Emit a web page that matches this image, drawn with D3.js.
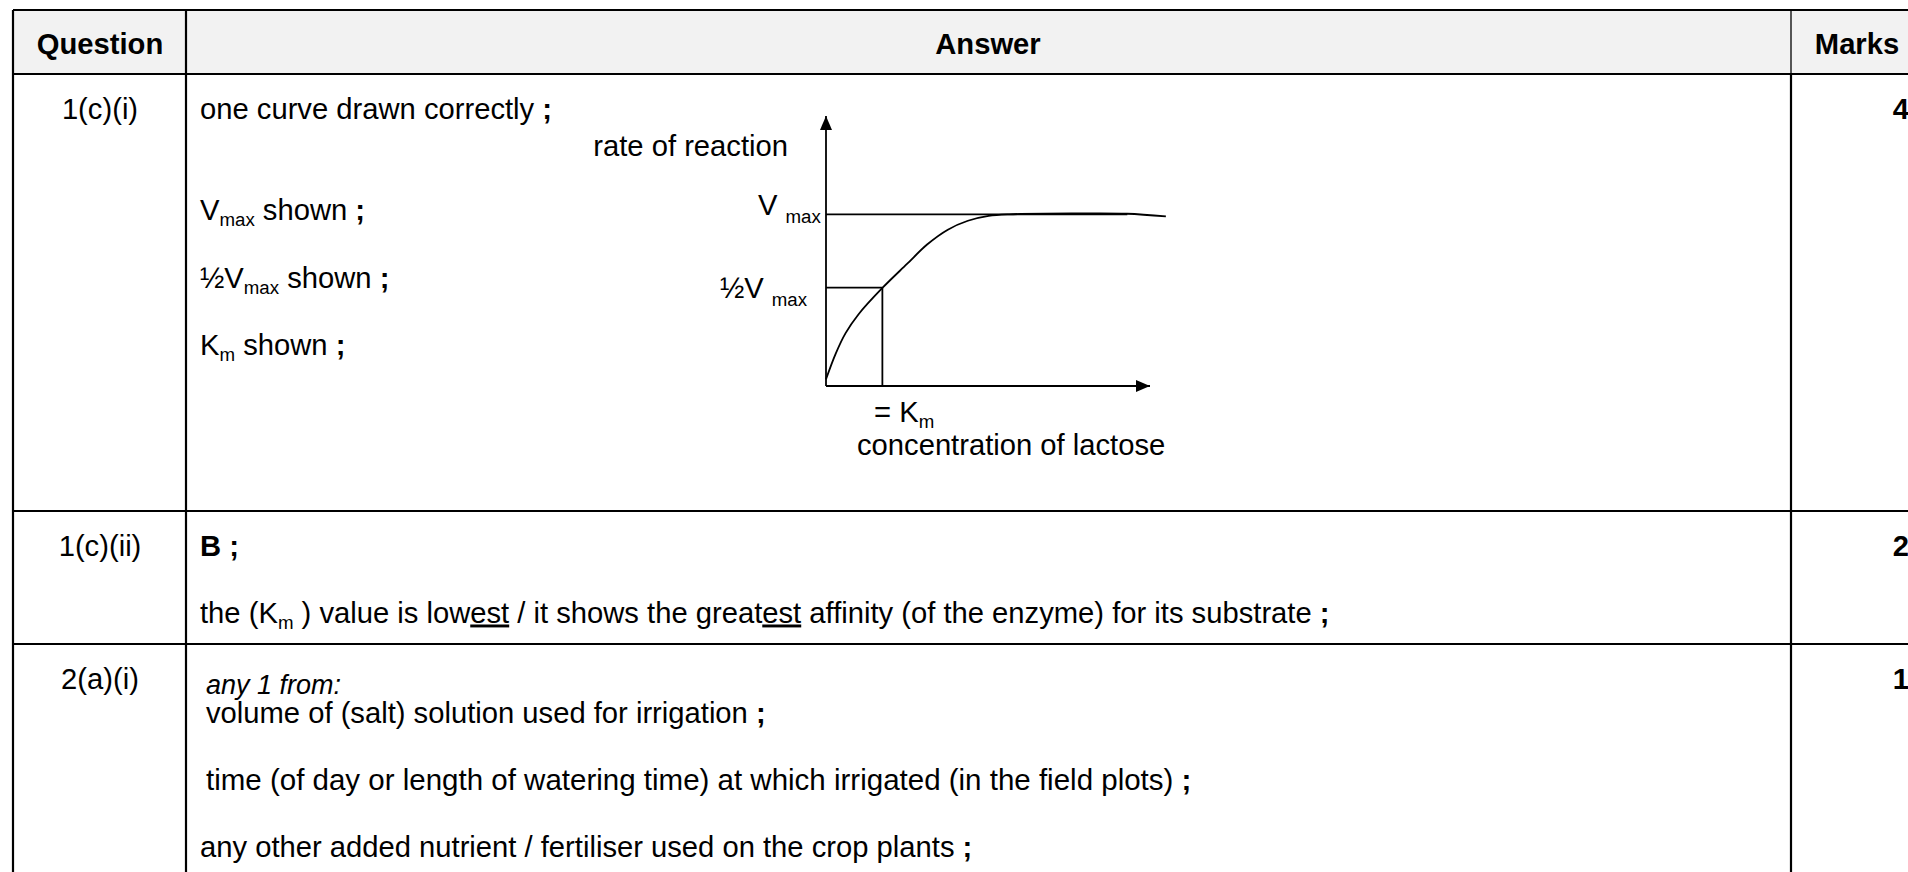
<!DOCTYPE html>
<html>
<head>
<meta charset="utf-8">
<script src="https://cdn.jsdelivr.net/npm/d3@7"></script>
<style>
  html, body { margin: 0; padding: 0; background: #fff; overflow: hidden; }
  svg { display: block; }
  text { font-family: "Liberation Sans", Arial, sans-serif; fill: #000; }
</style>
</head>
<body>
<script>
// ---------- data ----------
const headers = ["Question", "Answer", "Marks"];
const questions = ["1(c)(i)", "1(c)(ii)", "2(a)(i)"];
const marks = ["4", "2", "1"];
// Michaelis–Menten sketch (arbitrary units 0–100 on both axes)
const concentration = [0, 3, 6, 10, 17.4, 25, 31.2, 37.6, 43.8, 50.2, 56.5, 77.8, 92.9, 104.9];
const rate          = [2.5, 12, 19.5, 26.5, 36.3, 45.2, 52.4, 57.9, 61.2, 63.0, 63.6, 63.9, 63.8, 62.8];
const vmax = 63.6;
const halfVmax = 36.4;
const km = 17.4;
const vmaxLineEnd = 93;
const axisMax = 100;

const W = 1908, H = 872;
const FS = 29.2;

const svg = d3.select("body").append("svg").attr("width", W).attr("height", H);

// ---------- table geometry ----------
const colX = d3.scaleOrdinal().domain(["left", "q", "a", "right"]).range([13, 186, 1791, 1960]);
const rowY = d3.scaleOrdinal().domain(["top", "head", "r1", "r2", "r3"]).range([10, 74, 511, 644, 960]);

svg.append("rect")
  .attr("x", colX("left")).attr("y", rowY("top"))
  .attr("width", colX("right") - colX("left")).attr("height", rowY("head") - rowY("top"))
  .attr("fill", "#f2f2f2");

const grid = svg.append("g").attr("stroke", "#000").attr("stroke-width", 2.2);
["top", "head", "r1", "r2"].forEach(k => {
  grid.append("line").attr("x1", colX("left")).attr("x2", colX("right"))
    .attr("y1", rowY(k)).attr("y2", rowY(k));
});
["left", "q"].forEach(k => {
  grid.append("line").attr("x1", colX(k)).attr("x2", colX(k))
    .attr("y1", rowY("top")).attr("y2", rowY("r3"));
});
grid.append("line").attr("x1", colX("a")).attr("x2", colX("a"))
  .attr("y1", rowY("head")).attr("y2", rowY("r3"));
grid.append("line").attr("x1", colX("a")).attr("x2", colX("a"))
  .attr("y1", rowY("top")).attr("y2", rowY("head")).attr("stroke-width", 1.3);

// header
const headX = [100, 988, 1857];
headers.forEach((h, i) => {
  svg.append("text").attr("x", headX[i]).attr("y", 43).attr("dy", "0.36em")
    .attr("text-anchor", "middle").attr("font-weight", "bold").attr("font-size", FS).text(h);
});

// question column and marks
const rowTextY = [108, 545, 678];
questions.forEach((q, i) => {
  svg.append("text").attr("x", 100).attr("y", rowTextY[i]).attr("dy", "0.36em")
    .attr("text-anchor", "middle").attr("font-size", FS).text(q);
  svg.append("text").attr("x", 1909).attr("y", rowTextY[i]).attr("dy", "0.36em")
    .attr("text-anchor", "end").attr("font-weight", "bold").attr("font-size", FS).text(marks[i]);
});

// helper to write rich text
function rich(x, y, parts, opts = {}) {
  const size = opts.size || FS;
  const t = svg.append("text").attr("x", x).attr("y", y).attr("dy", "0.36em")
    .attr("font-size", size);
  if (opts.anchor) t.attr("text-anchor", opts.anchor);
  if (opts.italic) t.attr("font-style", "italic");
  parts.forEach(p => {
    if (typeof p === "string") { t.append("tspan").text(p); return; }
    const s = t.append("tspan").text(p.t);
    if (p.sub) s.attr("font-size", size * (p.scale || 0.64)).attr("dy", p.dy || 6);
    if (p.up) s.attr("dy", p.up);
    if (p.bold) s.attr("font-weight", "bold");
    if (p.u) s.attr("text-decoration", "underline");
    if (p.dx) s.attr("dx", p.dx);
  });
  return t;
}

// row 1 answer text
rich(200, 108, ["one curve drawn correctly ", {t: ";", bold: true}]);
rich(200, 209, ["V", {t: "max", sub: true}, {t: " shown ", up: -6}, {t: ";", bold: true}]);
rich(200, 277, ["½V", {t: "max", sub: true}, {t: " shown ", up: -6}, {t: ";", bold: true}]);
rich(200, 344, ["K", {t: "m", sub: true}, {t: " shown ", up: -6}, {t: ";", bold: true}]);

// row 2
rich(200, 545, [{t: "B ;", bold: true}]);
rich(200, 612, ["the (K", {t: "m", sub: true}, {t: " ) value is low", up: -6}, {t: "est", u: true},
  " / it shows the great", {t: "est", u: true}, " affinity (of the enzyme) for its substrate ", {t: ";", bold: true}]);

// row 3
rich(206, 684, ["any 1 from:"], {italic: true, size: 27});
rich(206, 712, ["volume of (salt) solution used for irrigation ", {t: ";", bold: true}]);
rich(206, 779, ["time (of day or length of watering time) at which irrigated (in the field plots) ", {t: ";", bold: true}], {size: 29.5});
rich(200, 846, ["any other added nutrient / fertiliser used on the crop plants ", {t: ";", bold: true}]);

// ---------- diagram ----------
const x = d3.scaleLinear().domain([0, axisMax]).range([826, 1150]);
const y = d3.scaleLinear().domain([0, axisMax]).range([386, 116]);

const defs = svg.append("defs");
defs.append("marker").attr("id", "arrow").attr("viewBox", "0 0 14 12")
  .attr("refX", 14).attr("refY", 6).attr("markerWidth", 14).attr("markerHeight", 12)
  .attr("markerUnits", "userSpaceOnUse").attr("orient", "auto")
  .append("path").attr("d", "M0,0 L14,6 L0,12 Z").attr("fill", "#000");

const dg = svg.append("g").attr("stroke", "#000").attr("fill", "none").attr("stroke-width", 1.8);
dg.append("line").attr("x1", x(0)).attr("y1", y(0)).attr("x2", x(0)).attr("y2", y(axisMax))
  .attr("marker-end", "url(#arrow)");
dg.append("line").attr("x1", x(0)).attr("y1", y(0)).attr("x2", x(axisMax)).attr("y2", y(0))
  .attr("marker-end", "url(#arrow)");
dg.append("line").attr("x1", x(0)).attr("y1", y(vmax)).attr("x2", x(vmaxLineEnd)).attr("y2", y(vmax));
dg.append("line").attr("x1", x(0)).attr("y1", y(halfVmax)).attr("x2", x(km)).attr("y2", y(halfVmax));
dg.append("line").attr("x1", x(km)).attr("y1", y(halfVmax)).attr("x2", x(km)).attr("y2", y(0));

const pts = concentration.map((c, i) => [c, rate[i]]);
dg.append("path").datum(pts)
  .attr("d", d3.line().x(d => x(d[0])).y(d => y(d[1])).curve(d3.curveCatmullRom.alpha(0.5)));

// diagram labels
rich(788, 145, ["rate of reaction"], {anchor: "end"});
rich(758, 204, ["V", {t: "max", sub: true, dx: 8, dy: 8}]);
rich(720, 287, ["½V", {t: "max", sub: true, dx: 8, dy: 8}]);
rich(874, 411, ["= K", {t: "m", sub: true}]);
rich(857, 444, ["concentration of lactose"]);
</script>
</body>
</html>
